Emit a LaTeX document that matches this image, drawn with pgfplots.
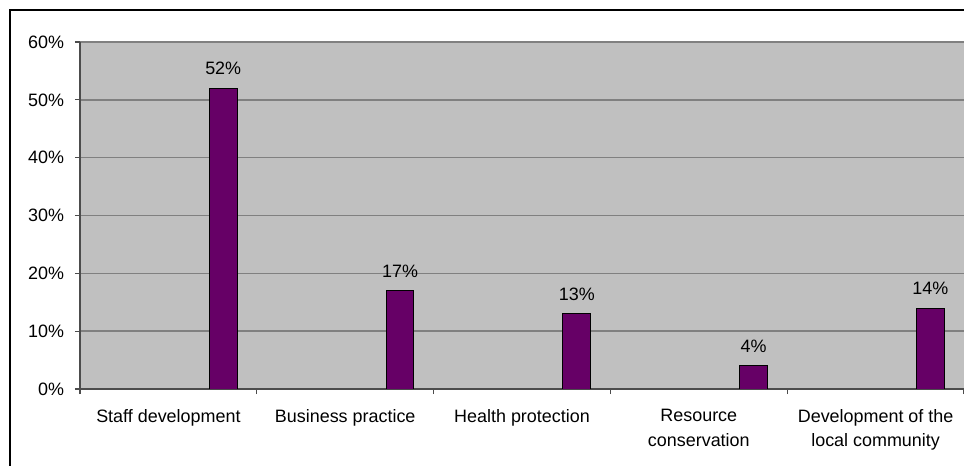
\documentclass[border=0pt]{standalone}
\usepackage{pgfplots}
\pgfplotsset{compat=1.18}
\usepackage{fontspec}
\setmainfont{Liberation Sans}

\definecolor{plotbg}{RGB}{192,192,192}
\definecolor{gridgray}{RGB}{128,128,128}
\definecolor{barpurple}{RGB}{102,0,102}

\begin{document}
\begin{tikzpicture}[font=\fontsize{9}{12.5}\selectfont]
  \path[use as bounding box] (0,0) rectangle (482bp,233bp);
  % outer chart frame
  \draw[line width=1bp] (5bp,-2bp) -- (5bp,228bp) -- (485bp,228bp);
  \begin{axis}[
    at={(40bp,38.5bp)}, anchor=south west,
    scale only axis,
    width=442bp, height=173.5bp,
    xmin=-0.5, xmax=4.5,
    ymin=0, ymax=60,
    axis background/.style={fill=plotbg},
    axis x line*=bottom, axis y line*=left,
    axis line style={-, draw=black!70, line width=0.6bp},
    tick align=outside,
    tick style={draw=black!70, line width=0.6bp},
    major tick length=2.5bp,
    minor tick length=2.5bp,
    ymajorgrids,
    major grid style={draw=gridgray, line width=0.7bp},
    ytick={0,10,...,60},
    yticklabels={0\%,10\%,20\%,30\%,40\%,50\%,60\%},
    yticklabel style={xshift=-2bp},
    xtick={0,1,2,3,4},
    major x tick style={draw=none},
    minor xtick={-0.5,0.5,...,4.5},
    xticklabels={Staff development, Business practice, Health protection,
                 {Resource\\conservation}, {Development of the\\local community}},
    xticklabel style={align=center, anchor=north, text depth=0pt, yshift=-4bp},
    /pgf/number format/assume math mode=true,
    ybar, bar width=0.158, bar shift=0.31,
    nodes near coords={\pgfmathprintnumber{\pgfplotspointmeta}\%},
    nodes near coords style={anchor=south, yshift=3bp},
  ]
    \addplot[fill=barpurple, draw=black, line width=0.5bp]
      coordinates {(0,52) (1,17) (2,13) (3,4) (4,14)};
  \end{axis}
\end{tikzpicture}
\end{document}
